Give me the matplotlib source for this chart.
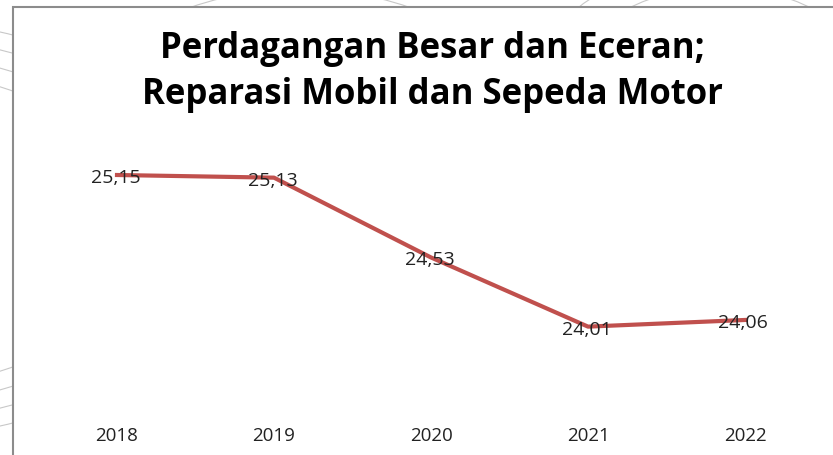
import matplotlib
matplotlib.use("Agg")
import matplotlib.pyplot as plt
from matplotlib.patches import Rectangle, Circle

years = ["2018", "2019", "2020", "2021", "2022"]
values = [25.15, 25.13, 24.53, 24.01, 24.06]
title = "Perdagangan Besar dan Eceran;\nReparasi Mobil dan Sepeda Motor"

W, H = 833, 456
fig = plt.figure(figsize=(W / 100, H / 100), dpi=100)
fig.patch.set_facecolor("white")

# faint decorative arcs behind the chart box
for r, cx, cy in [(300, -150, 230), (330, -150, 230), (360, -150, 230), (390, -150, 230),
                  (260, 700, 560), (300, 700, 560), (340, 700, 560), (380, 700, 560),
                  (120, 300, 100), (160, 300, 100), (200, 300, 100),
                  (90, 720, 60), (130, 720, 60), (170, 720, 60)]:
    fig.patches.append(Circle((cx / W, 1 - cy / H), r / W, transform=fig.transFigure,
                              fill=False, edgecolor="#c8c8c8", linewidth=0.8, zorder=0))

# chart box
fig.patches.append(Rectangle((13 / W, -0.05), 1.2, 1 - 8 / H + 0.05, transform=fig.transFigure,
                             facecolor="white", edgecolor="#8c8c8c", linewidth=1.5, zorder=1))

ax = fig.add_axes([38.5 / W, 1 - 408.75 / H, 785 / W, (408.75 - 142.75) / H])
ax.set_zorder(2)
ax.patch.set_alpha(0)
x = list(range(len(years)))
ax.plot(x, values, color="#C0504D", linewidth=3, solid_joinstyle="round", zorder=3)
for xi, v in zip(x, values):
    ax.text(xi - 0.01, v - 0.015, f"{v:.2f}".replace(".", ","), ha="center", va="center",
            fontsize=14, family="Open Sans", color="#222222", zorder=4)
ax.set_xlim(-0.5, 4.5)
ax.set_ylim(23.4, 25.4)
ax.set_xticks(x)
ax.set_xticklabels(years, fontsize=13.5, family="Open Sans", color="#222222")
ax.tick_params(axis="x", length=0, pad=13)
ax.set_yticks([])
for s in ax.spines.values():
    s.set_visible(False)

fig.text(432 / W, 1 - 72 / H, title, ha="center", va="center", fontsize=25,
         fontweight="bold", family="Open Sans", color="black", linespacing=1.4)

fig.savefig("out.png", dpi=100)
